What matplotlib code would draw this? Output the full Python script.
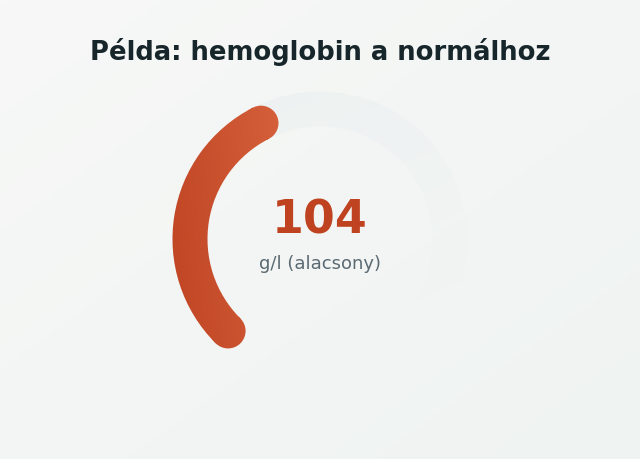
import numpy as np
import matplotlib.pyplot as plt
from matplotlib.patches import Wedge, Circle
from matplotlib.path import Path
from matplotlib.colors import LinearSegmentedColormap, to_rgb

# gauge data
title = "Példa: hemoglobin a normálhoz"
value = 104
unit_label = "g/l (alacsony)"
scale_min = 40
scale_max = 200

# gauge geometry (pixels)
W, H = 640, 460
cx, cy = 320, 240
r_mid = 130
thick = 35
start_deg = 225
sweep_deg = 270

fig = plt.figure(figsize=(W / 100, H / 100), dpi=100)
ax = fig.add_axes([0, 0, 1, 1])
ax.set_xlim(0, W)
ax.set_ylim(H, 0)
ax.axis('off')

# background, soft diagonal gradient
yy, xx = np.mgrid[0:1:100j, 0:1:100j]
bg = LinearSegmentedColormap.from_list('bg', ['#f7f8f7', '#eff3f1'])
ax.imshow(0.5 * xx + 0.5 * yy, cmap=bg, extent=[0, W, H, 0], zorder=0, aspect='auto')


def arc_clip(a_from, a_to):
    # wedge angles are counterclockwise in a y-up frame; our y axis is flipped
    parts = [Wedge((cx, cy), r_mid + thick / 2, -a_from, -a_to, width=thick)]
    for a in (a_from, a_to):
        t = np.radians(a)
        parts.append(Circle((cx + r_mid * np.cos(t), cy - r_mid * np.sin(t)), thick / 2))
    paths = [p.get_path().transformed(p.get_patch_transform()) for p in parts]
    return Path.make_compound_path(*paths)


# track, fading out towards the lower right
end_deg = start_deg - sweep_deg
ty, tx = np.mgrid[0:1:200j, 0:1:200j]
track = np.zeros((200, 200, 4))
track[..., :3] = to_rgb('#eaeff0')
track[..., 3] = np.clip(1.0 - 1.0 * ty - 0.4 * tx, 0, 1) * 0.8
img_t = ax.imshow(track, extent=[cx - 170, cx + 170, cy + 170, cy - 170],
                  zorder=1, aspect='auto')
img_t.set_clip_path(arc_clip(start_deg, end_deg), ax.transData)

# value arc with gradient fill
frac = (value - scale_min) / (scale_max - scale_min)
val_deg = start_deg - frac * sweep_deg
gy, gx = np.mgrid[0:1:100j, 0:1:100j]
arc_cmap = LinearSegmentedColormap.from_list('arc', ['#bf4423', '#d6603b'])
img = ax.imshow(0.8 * gx + 0.2 * (1 - gy), cmap=arc_cmap,
                extent=[cx - 150, cx - 40, cy + 110, cy - 150], zorder=3, aspect='auto')
img.set_clip_path(arc_clip(start_deg, val_deg), ax.transData)

ax.text(W / 2, 52, title, ha='center', va='center', fontsize=18.6,
        fontweight='bold', color='#17262b', zorder=5)
ax.text(cx, 221, str(value), ha='center', va='center', fontsize=33,
        fontweight='bold', color='#bf4320', zorder=5)
ax.text(cx, 264, unit_label, ha='center', va='center', fontsize=13,
        color='#5b6a72', zorder=5)

fig.savefig('out.png', dpi=100)
